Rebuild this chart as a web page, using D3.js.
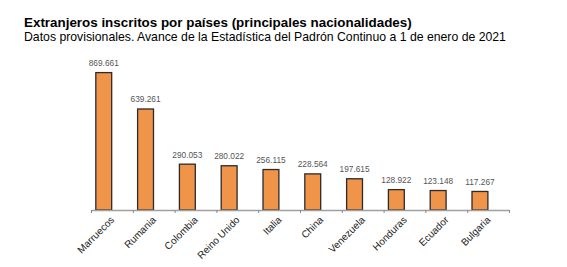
<!DOCTYPE html>
<html>
<head>
<meta charset="utf-8">
<script src="https://cdn.jsdelivr.net/npm/d3@7"></script>
<style>
  body { margin: 0; background: #fff; }
  svg { display: block; font-family: "Liberation Sans", Arial, sans-serif; }
</style>
</head>
<body>
<svg id="chart" width="567" height="267"></svg>
<script>
// data
var paises = ["Marruecos", "Rumania", "Colombia", "Reino Unido", "Italia", "China", "Venezuela", "Honduras", "Ecuador", "Bulgaria"];
var valores = [869661, 639261, 290053, 280022, 256115, 228564, 197615, 128922, 123148, 117267];
var etiquetas = ["869.661", "639.261", "290.053", "280.022", "256.115", "228.564", "197.615", "128.922", "123.148", "117.267"];

var titulo = "Extranjeros inscritos por países (principales nacionalidades)";
var subtitulo = "Datos provisionales. Avance de la Estadística del Padrón Continuo a 1 de enero de 2021";

var svg = d3.select("#chart");

var margin = {left: 91, right: 58, top: 52, bottom: 57},
    width = 567 - margin.left - margin.right,
    height = 267 - margin.top - margin.bottom;

// title
svg.append("text")
  .attr("x", 24).attr("y", 26.5)
  .style("font-size", "13.4px").style("font-weight", "bold")
  .attr("fill", "#000")
  .text(titulo);

svg.append("text")
  .attr("x", 24).attr("y", 40.5)
  .style("font-size", "12.25px")
  .attr("fill", "#000")
  .text(subtitulo);

var g = svg.append("g")
  .attr("transform", "translate(" + margin.left + "," + margin.top + ")");

// scales
var x = d3.scaleBand().domain(paises).range([0, width]);
var idx = d3.scaleLinear().domain([0, paises.length]).range([0, width]);
var y = d3.scaleLinear().domain([0, 1000000]).range([height, 0]);

var barOff = x.bandwidth() * 0.115, barW = x.bandwidth() * 0.38;

// bars
g.selectAll(".bar")
  .data(valores)
  .enter().append("rect")
  .attr("class", "bar")
  .attr("x", function(d, i) { return x(paises[i]) + barOff; })
  .attr("width", barW)
  .attr("y", function(d) { return y(d); })
  .attr("height", function(d) { return height - y(d); })
  .attr("fill", "#f0944a")
  .attr("stroke", "#2b2b2b")
  .attr("stroke-width", 1.3);

// value labels
g.selectAll(".val")
  .data(valores)
  .enter().append("text")
  .attr("class", "val")
  .attr("x", function(d, i) { return x(paises[i]) + barOff + barW / 2; })
  .attr("y", function(d) { return y(d) - 6.5; })
  .attr("text-anchor", "middle")
  .style("font-size", "8.3px")
  .attr("fill", "#555")
  .text(function(d, i) { return etiquetas[i]; });

// x axis
var ax = g.append("g")
  .attr("transform", "translate(0," + height + ")")
  .call(d3.axisBottom(idx).ticks(paises.length).tickSizeInner(3).tickSizeOuter(0).tickFormat(""));
ax.select(".domain").attr("stroke", "#a0a0a0").attr("stroke-width", 1.5);
ax.selectAll(".tick line").attr("stroke", "#888");

// category labels
g.selectAll(".cat")
  .data(paises)
  .enter().append("text")
  .attr("class", "cat")
  .attr("transform", function(d) {
    return "translate(" + (x(d) + x.bandwidth() / 2 + 3) + "," + (height + 10.5) + ") rotate(-45)";
  })
  .attr("text-anchor", "end")
  .style("font-size", "10px")
  .attr("fill", "#222")
  .text(function(d) { return d; });
</script>
</body>
</html>
